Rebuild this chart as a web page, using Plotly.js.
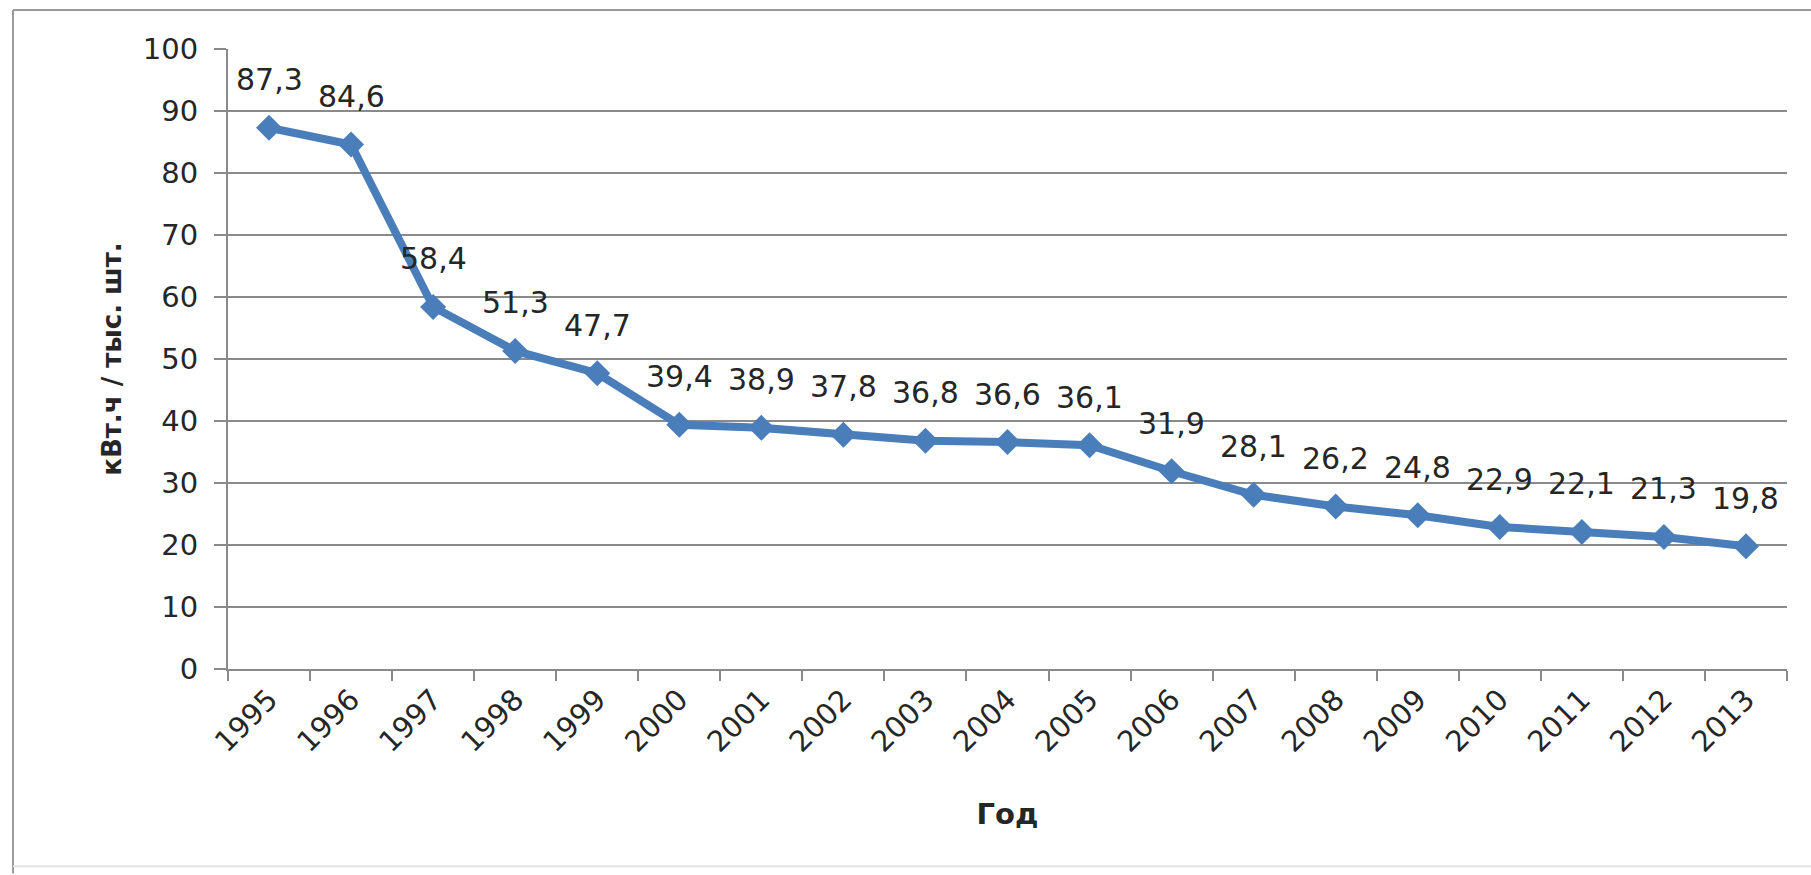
<!DOCTYPE html>
<html>
<head>
<meta charset="utf-8">
<script src="https://cdn.plot.ly/plotly-3.0.1.min.js"></script>
<style>
html,body{margin:0;padding:0;background:#fff;}
#chart{width:1811px;height:875px;}
</style>
</head>
<body>
<div id="chart"></div>
<script>
const years = ["1995","1996","1997","1998","1999","2000","2001","2002","2003","2004","2005","2006","2007","2008","2009","2010","2011","2012","2013"];
const values = [87.3,84.6,58.4,51.3,47.7,39.4,38.9,37.8,36.8,36.6,36.1,31.9,28.1,26.2,24.8,22.9,22.1,21.3,19.8];
const valueLabels = ["87,3","84,6","58,4","51,3","47,7","39,4","38,9","37,8","36,8","36,6","36,1","31,9","28,1","26,2","24,8","22,9","22,1","21,3","19,8"];
const yTickVals = [0,10,20,30,40,50,60,70,80,90,100];
const xTitle = "Год";
const yTitle = "кВт.ч / тыс. шт.";

const blue = "#4A7EBB";
const grid = "#8a8a8a";
const txt = "#262626";
const font = "DejaVu Sans, Verdana, sans-serif";

const trace = {
  x: years, y: values, type: "scatter", mode: "lines+markers",
  line: {color: blue, width: 8},
  marker: {symbol: "diamond", size: 20, color: blue},
  hoverinfo: "skip"
};

const annotations = valueLabels.map((lab, i) => ({
  x: i, y: values[i], xref: "x", yref: "y",
  text: lab, showarrow: false,
  yshift: 48, xanchor: "center", yanchor: "middle",
  font: {family: font, size: 30, color: txt}
}));

const borderColor = "#9a9a9a";
const shapes = [
  {type: "line", xref: "paper", yref: "paper", x0: -0.1379, x1: -0.1379, y0: 1.063, y1: -0.33, line: {color: borderColor, width: 2}},
  {type: "line", xref: "paper", yref: "paper", x0: -0.1379, x1: 1.03, y0: 1.063, y1: 1.063, line: {color: borderColor, width: 2}},
  {type: "line", xref: "paper", yref: "paper", x0: -0.1379, x1: 1.03, y0: -0.318, y1: -0.318, line: {color: "#e4e4e4", width: 2}}
];

const layout = {
  width: 1811, height: 875,
  margin: {l: 228, r: 24, t: 49, b: 206},
  paper_bgcolor: "#ffffff", plot_bgcolor: "#ffffff",
  showlegend: false,
  font: {family: font, color: txt},
  xaxis: {
    type: "category", range: [-0.5, 18.5],
    tickangle: -45, tickson: "boundaries",
    ticks: "outside", ticklen: 10, tickwidth: 2, tickcolor: grid,
    showline: true, linecolor: grid, linewidth: 2,
    showgrid: false, zeroline: false,
    tickfont: {family: font, size: 29, color: txt},
    title: {text: xTitle, font: {family: "DejaVu Sans, sans-serif", size: 29, color: txt, weight: "bold"}, standoff: 46}
  },
  yaxis: {
    range: [0, 100], tickvals: yTickVals,
    ticks: "outside", ticklen: 12, tickwidth: 2, tickcolor: grid,
    ticklabelstandoff: 10,
    showline: true, linecolor: grid, linewidth: 2,
    showgrid: true, gridcolor: grid, gridwidth: 2,
    zeroline: false,
    tickfont: {family: font, size: 29, color: txt},
    title: {text: yTitle, font: {family: "DejaVu Sans, sans-serif", size: 26, color: txt, weight: "bold"}, standoff: 14}
  },
  annotations: annotations,
  shapes: shapes
};

Plotly.newPlot("chart", [trace], layout, {displayModeBar: false});
</script>
</body>
</html>
